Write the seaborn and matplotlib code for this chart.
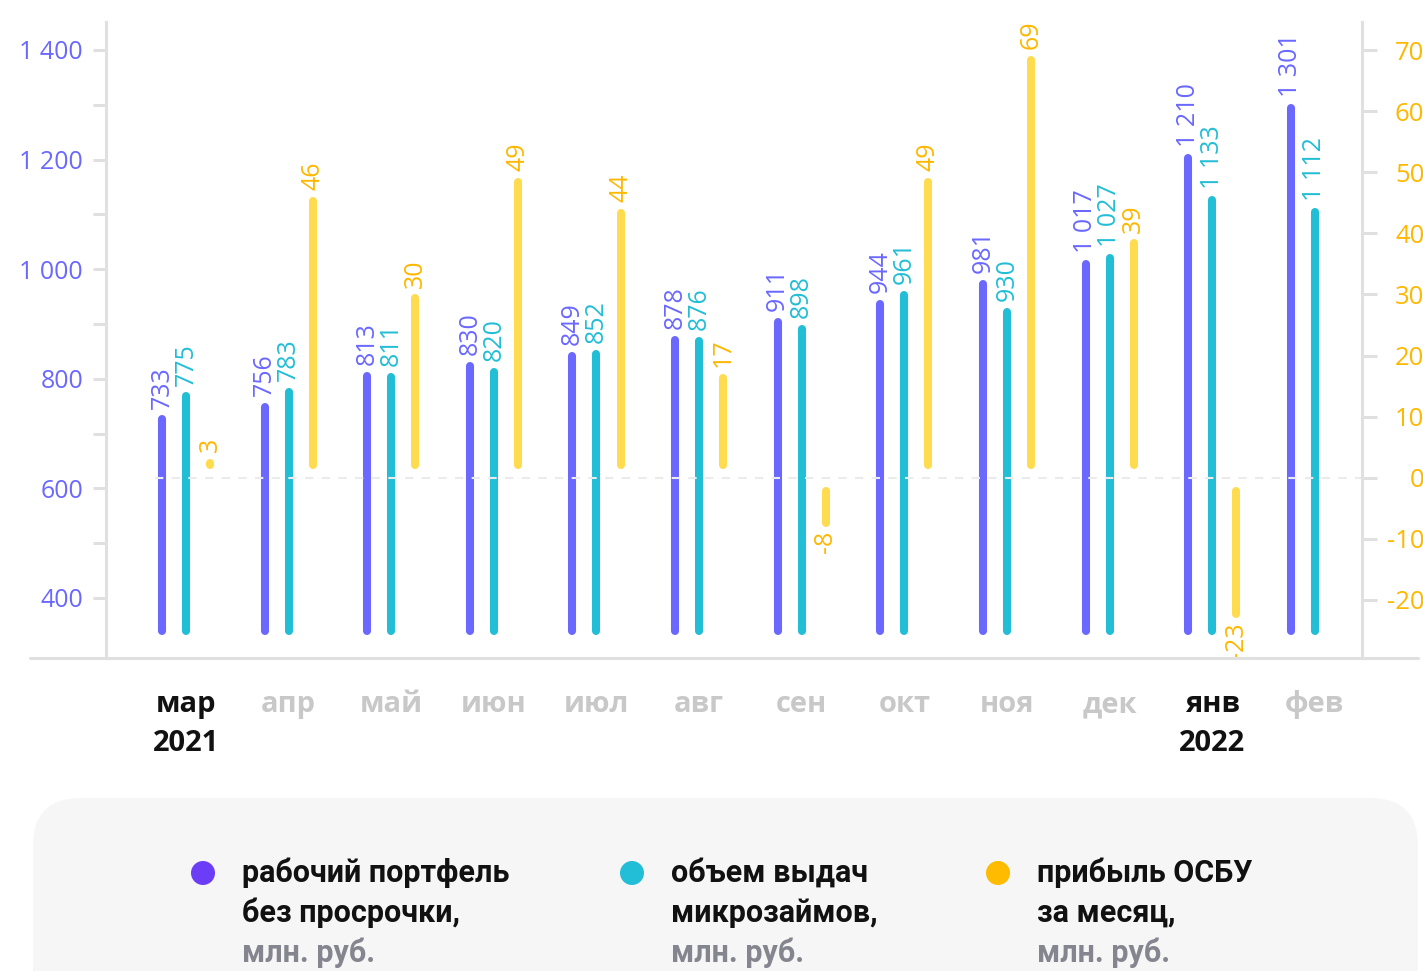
import numpy as np
import matplotlib
matplotlib.use("Agg")
import matplotlib.pyplot as plt
import seaborn as sns
from matplotlib.patches import FancyBboxPatch, Circle
from matplotlib.lines import Line2D
from matplotlib.transforms import IdentityTransform
from matplotlib.ticker import FuncFormatter, FixedLocator

# ── Data ──────────────────────────────────────────────────────────────
MONTHS = ["мар", "апр", "май", "июн", "июл", "авг", "сен", "окт", "ноя", "дек", "янв", "фев"]
YEARS = ["2021", "", "", "", "", "", "", "", "", "", "2022", ""]
PORTFOLIO = [733, 756, 813, 830, 849, 878, 911, 944, 981, 1017, 1210, 1301]
ISSUED = [775, 783, 811, 820, 852, 876, 898, 961, 930, 1027, 1133, 1112]
PROFIT = [3, 46, 30, 49, 44, 17, -8, 49, 69, 39, -23, np.nan]
LEFT_TICKS = [400, 600, 800, 1000, 1200, 1400]
LEFT_MINOR = [500, 700, 900, 1100, 1300]
RIGHT_TICKS = [-20, -10, 0, 10, 20, 30, 40, 50, 60, 70]
SERIES = [
    ("рабочий портфель", "без просрочки,"),
    ("объем выдач", "микрозаймов,"),
    ("прибыль ОСБУ", "за месяц,"),
]
UNIT = "млн. руб."

PURPLE = "#6a68ff"
TEAL = "#22bed6"
YELLOW = "#ffdc4f"
YELLOW_TXT = "#ffb800"
LEGEND_COLORS = ["#6b3df7", "#22bdd6", "#ffbb00"]
GRID = "#e0e0e0"

W, H = 1423, 971
LW = 5.8          # bar width in points (~8 px)


def fmt(v):
    return f"{int(v):,}".replace(",", " ")


sns.set_theme(style="white")
plt.rcParams["font.family"] = ["Open Sans", "DejaVu Sans"]

fig = plt.figure(figsize=(W / 100, H / 100), dpi=100)
ax = fig.add_axes([106 / W, 1 - 658 / H, (1362 - 106) / W, (658 - 22) / H])
ax2 = ax.twinx()

ax.set_xlim(-0.78, 11.46)
ax.set_ylim(290.5, 1451)
ax2.set_ylim(-29.5, 74.6)

# pixel -> data helpers for round caps
px_left = (1451 - 290.5) / 636
px_right = (74.6 + 29.5) / 636
cap = 4

x = np.arange(len(MONTHS))
dx = 0.234
base = 332.5 + cap * px_left

for xs, vals, col in [(x - dx, PORTFOLIO, PURPLE), (x, ISSUED, TEAL)]:
    vals = np.array(vals, dtype=float)
    lc = ax.vlines(xs, base, vals - cap * px_left, colors=col, lw=LW)
    lc.set_capstyle("round")
    for xi, v in zip(xs, vals):
        ax.annotate(fmt(v), (xi, v), xytext=(0, 5), textcoords="offset points",
                    rotation=90, ha="center", va="bottom", color=col, fontsize=18)

prof = np.array(PROFIT, dtype=float)
ok = ~np.isnan(prof)
sgn = np.sign(prof[ok])
start = sgn * (1.5 + cap * px_right)
end = prof[ok] - sgn * cap * px_right
lc = ax2.vlines(x[ok] + dx, start, end, colors=YELLOW, lw=LW)
lc.set_capstyle("round")
for xi, v in zip(x[ok] + dx, prof[ok]):
    if v >= 0:
        ax2.annotate(fmt(v), (xi, v), xytext=(0, 5), textcoords="offset points",
                     rotation=90, ha="center", va="bottom", color=YELLOW_TXT, fontsize=18)
    else:
        ax2.annotate(fmt(v), (xi, v), xytext=(0, -3), textcoords="offset points",
                     rotation=90, ha="center", va="top", color=YELLOW_TXT, fontsize=18)

ax2.axhline(0, xmin=0.039, xmax=1, color="#ebebeb", lw=1.5, dashes=(4, 4), zorder=0)

# ── Axes styling ──────────────────────────────────────────────────────
for a in (ax, ax2):
    a.grid(False)
    a.set_facecolor("none")
    for s in ("top", "bottom"):
        a.spines[s].set_visible(False)
ax.spines["left"].set_color(GRID)
ax.spines["left"].set_linewidth(2.2)
ax.spines["right"].set_visible(False)
ax2.spines["left"].set_visible(False)
ax2.spines["right"].set_color(GRID)
ax2.spines["right"].set_linewidth(2.2)

ax.set_yticks(LEFT_TICKS)
ax.yaxis.set_minor_locator(FixedLocator(LEFT_MINOR))
ax.yaxis.set_major_formatter(FuncFormatter(lambda v, p: fmt(v)))
ax.tick_params(axis="y", which="both", left=True, length=9.5, width=2.2, color=GRID,
               labelcolor=PURPLE, labelsize=18, pad=7)

ax2.set_yticks(RIGHT_TICKS)
ax2.yaxis.set_major_formatter(FuncFormatter(lambda v, p: fmt(v)))
ax2.tick_params(axis="y", right=True, length=11, width=2.2, color=GRID,
                labelcolor=YELLOW_TXT, labelsize=18.5, pad=34)
for t in ax2.get_yticklabels():
    t.set_horizontalalignment("right")

ax.set_xticks(x)
ax.set_xticklabels([m + ("\n" + y if y else "") for m, y in zip(MONTHS, YEARS)])
ax.tick_params(axis="x", length=0, pad=23, labelsize=21)
for t, y in zip(ax.get_xticklabels(), YEARS):
    t.set_fontweight("bold")
    t.set_linespacing(1.45)
    t.set_color("#111111" if y else "#c8c8c8")

# bottom rule extends past the plot area
fig.add_artist(Line2D([30 / W, 1418 / W], [1 - 658 / H, 1 - 658 / H],
                      color=GRID, lw=2.2, transform=fig.transFigure))

# ── Legend panel ──────────────────────────────────────────────────────
panel = FancyBboxPatch((33, -60), 1385, (H - 798) + 60,
                       boxstyle="round,pad=0,rounding_size=48",
                       transform=IdentityTransform(), facecolor="#f6f6f6",
                       edgecolor="none")
fig.add_artist(panel)

for (l1, l2), col, (cx, tx) in zip(SERIES, LEGEND_COLORS,
                                   [(203, 242), (632, 671), (998, 1037)]):
    fig.add_artist(Circle((cx, H - 873), 12, transform=IdentityTransform(),
                          facecolor=col, edgecolor="none"))
    for i, (txt, c) in enumerate([(l1, "#111111"), (l2, "#111111"), (UNIT, "#85858f")]):
        fig.text(tx / W, 1 - (873 + 40 * i) / H, txt, color=c, fontsize=22,
                 fontweight="bold", va="center", ha="left",
                 family=["Roboto", "DejaVu Sans"])

fig.savefig("out.png", dpi=100)
